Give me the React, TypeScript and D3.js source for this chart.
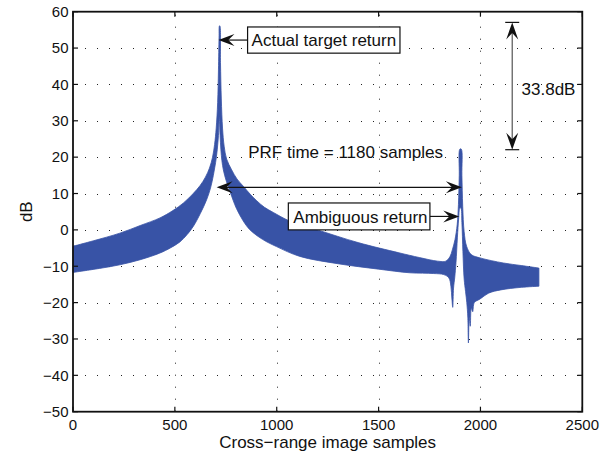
import React from 'react';
import * as d3 from 'd3';

const W = 615;
const H = 458;

const X_TICKS = [0, 500, 1000, 1500, 2000, 2500];
const Y_TICKS = [-50, -40, -30, -20, -10, 0, 10, 20, 30, 40, 50, 60];

// Upper envelope of the cross-range image (sample, dB)
const UPPER_SAMPLES = [0, 100, 230, 330, 427, 490, 542, 590, 624, 650, 670, 685, 695, 703, 710, 714, 717, 719, 721, 724, 728, 734, 742, 754, 779, 805, 836, 870, 902, 940, 983, 1065, 1200, 1400, 1600, 1700, 1790, 1830, 1850, 1862, 1875, 1886, 1892, 1896, 1899, 1906, 1909, 1913, 1920, 1932, 1955, 1998, 2112, 2200, 2287];
const UPPER_DB = [-4.5, -3.0, -0.9, 1.2, 3.3, 5.3, 7.4, 10.0, 12.2, 14.5, 17, 20, 23.5, 28, 35, 44, 53, 56.1, 56.1, 46, 36, 28, 23, 19.5, 16.5, 14.0, 12.0, 9.8, 8.0, 6.2, 4.8, 2.4, 0, -3.5, -6.3, -7.6, -8.6, -8.6, -7.4, -5.5, -2.7, 1.5, 7, 15, 22.2, 22.2, 15, 6.5, -0.5, -4.5, -6.8, -7.7, -9.1, -9.8, -10.5];

// Lower envelope of the cross-range image (sample, dB)
const LOWER_SAMPLES = [0, 130, 230, 330, 425, 480, 525, 560, 591, 625, 656, 675, 689, 700, 708, 714, 718, 722, 726, 731, 738, 752, 771, 787, 803, 835, 869, 930, 999, 1114, 1300, 1500, 1654, 1769, 1820, 1845, 1855, 1860, 1864, 1868, 1874, 1880, 1887, 1893, 1899, 1904, 1909, 1914, 1920, 1927, 1933, 1938, 1941, 1945, 1950, 1955, 1962, 1970, 1998, 2040, 2100, 2200, 2287];
const LOWER_DB = [-11.7, -10.6, -9.6, -8.2, -6.4, -4.9, -3.3, -1.3, 1.0, 4.5, 8.3, 11.5, 15.0, 18.5, 22, 26, 31, 26, 22, 19, 16.5, 13.5, 10.5, 8.0, 5.8, 2.5, 0, -2.6, -4.6, -7.3, -9.3, -10.8, -11.8, -12.0, -12.3, -13.2, -15.5, -19, -21.3, -16, -13, -9, -2, 3, 6, 6, 2, -6, -13.5, -17, -20, -24, -31.1, -24, -26.5, -21.5, -22.5, -20, -19, -17.4, -16.5, -15.8, -15.5];

const X_LABEL = 'Cross\u2212range image samples';
const Y_LABEL = 'dB';
const ACTUAL_LABEL = 'Actual target return';
const AMBIG_LABEL = 'Ambiguous return';
const PRF_LABEL = 'PRF time = 1180 samples';
const DIFF_LABEL = '33.8dB';

const FONT = '"Liberation Sans", Arial, Helvetica, sans-serif';
const BLUE = '#3853a6';

const fmt = (v: number) => (v < 0 ? '\u2212' + Math.abs(v) : String(v));

function arrowHead(tx: number, ty: number, dx: number, dy: number, L = 16, Wd = 6, notch = 0.62) {
  const bx = tx - dx * L;
  const by = ty - dy * L;
  const px = -dy;
  const py = dx;
  const p1 = [bx + px * Wd, by + py * Wd];
  const p2 = [bx - px * Wd, by - py * Wd];
  const n = [tx - dx * L * notch, ty - dy * L * notch];
  return `M${tx},${ty}L${p1[0]},${p1[1]}L${n[0]},${n[1]}L${p2[0]},${p2[1]}Z`;
}

export default function App() {
  const left = 73;
  const right = 582.3;
  const top = 11.7;
  const bottom = 411.7;

  const x = d3.scaleLinear().domain([0, 2500]).range([left, right]);
  const y = d3.scaleLinear().domain([-50, 60]).range([bottom, top]);

  const upper = UPPER_SAMPLES.map((s, i) => [s, UPPER_DB[i]] as [number, number]);
  const lower = LOWER_SAMPLES.map((s, i) => [s, LOWER_DB[i]] as [number, number]);
  const line = d3
    .line<[number, number]>()
    .x((d) => x(d[0]))
    .y((d) => y(d[1]))
    .curve(d3.curveCatmullRom.alpha(0.5));
  const upperPath = line(upper) || '';
  const lowerPath = (line(lower.slice().reverse()) || '').replace(/^M/, 'L');
  const bandPath = upperPath + lowerPath + 'Z';

  const tickLen = 5;

  // annotation anchors (data units)
  const actBox = { s0: 857, s1: 1605, d0: 55.8, d1: 48.6 };
  const actArrow = { sTip: 714, d: 52.2 };
  const ambBox = { s0: 1057, s1: 1752, d0: 7.4, d1: 0 };
  const ambArrow = { sTip: 1896, d: 3.7 };
  const prf = { s0: 705, s1: 1909, d: 11.7, textS: 860, textD: 19.9 };
  const diff = { s: 2156, dTop: 57.06, dBot: 22.05, textS: 2202, textD: 37.2 };

  const actY = y(actArrow.d);
  const ambY = y(ambArrow.d);
  const prfY = y(prf.d);
  const dX = x(diff.s);

  return (
    <svg width={W} height={H} style={{ position: 'absolute', left: 0, top: 0, background: '#fff' }} fontFamily={FONT}>
      <rect x={0} y={0} width={W} height={H} fill="#fff" />
      {/* grid */}
      <g stroke="#222" strokeWidth={1} strokeDasharray="1,11">
        {X_TICKS.filter((t) => t > 0 && t < 2500).map((t) => (
          <line key={'gx' + t} x1={Math.round(x(t)) + 0.5} x2={Math.round(x(t)) + 0.5} y1={bottom} y2={top} />
        ))}
        {Y_TICKS.filter((t) => t > -50 && t < 60).map((t) => (
          <line key={'gy' + t} x1={left} x2={right} y1={Math.round(y(t)) + 0.5} y2={Math.round(y(t)) + 0.5} />
        ))}
      </g>

      {/* signal band */}
      <path d={bandPath} fill={BLUE} stroke={BLUE} strokeWidth={0.8} strokeLinejoin="round" />

      {/* axes box */}
      <rect x={left} y={top} width={right - left} height={bottom - top} fill="none" stroke="#111" strokeWidth={1.8} />
      <g stroke="#111" strokeWidth={1.2}>
        {X_TICKS.map((t) => (
          <g key={'tx' + t}>
            <line x1={x(t)} x2={x(t)} y1={bottom} y2={bottom - tickLen} />
            <line x1={x(t)} x2={x(t)} y1={top} y2={top + tickLen} />
          </g>
        ))}
        {Y_TICKS.map((t) => (
          <g key={'ty' + t}>
            <line x1={left} x2={left + tickLen} y1={y(t)} y2={y(t)} />
            <line x1={right} x2={right - tickLen} y1={y(t)} y2={y(t)} />
          </g>
        ))}
      </g>
      <g fontSize={15} fill="#111">
        {X_TICKS.map((t) => (
          <text key={'lx' + t} x={x(t)} y={430} textAnchor="middle">
            {fmt(t)}
          </text>
        ))}
        {Y_TICKS.map((t) => (
          <text key={'ly' + t} x={68.5} y={y(t) + 5.3} textAnchor="end">
            {fmt(t)}
          </text>
        ))}
      </g>
      <text x={(left + right) / 2} y={448} textAnchor="middle" fontSize={17} fill="#111">
        {X_LABEL}
      </text>
      <text transform={`translate(31.5,${(top + bottom) / 2}) rotate(-90)`} textAnchor="middle" fontSize={17} fill="#111">
        {Y_LABEL}
      </text>

      {/* Actual target return */}
      <line x1={x(actBox.s0)} x2={x(actArrow.sTip) + 8} y1={actY} y2={actY} stroke="#111" strokeWidth={1.2} />
      <path d={arrowHead(x(actArrow.sTip), actY, -1, 0)} fill="#111" />
      <rect x={x(actBox.s0)} y={y(actBox.d0)} width={x(actBox.s1) - x(actBox.s0)} height={y(actBox.d1) - y(actBox.d0)} fill="#fff" stroke="#111" strokeWidth={1.2} />
      <text x={x(actBox.s0) + 4} y={y(actBox.d1) - 6.8} fontSize={17} fill="#111">
        {ACTUAL_LABEL}
      </text>

      {/* PRF */}
      <text x={x(prf.textS)} y={y(prf.textD)} fontSize={17} fill="#111">
        {PRF_LABEL}
      </text>
      <line x1={x(prf.s0) + 8} x2={x(prf.s1) - 8} y1={prfY} y2={prfY} stroke="#111" strokeWidth={1.2} />
      <path d={arrowHead(x(prf.s0), prfY, -1, 0)} fill="#111" />
      <path d={arrowHead(x(prf.s1), prfY, 1, 0)} fill="#111" />

      {/* Ambiguous return */}
      <line x1={x(ambBox.s1)} x2={x(ambArrow.sTip) - 8} y1={ambY} y2={ambY} stroke="#111" strokeWidth={1.2} />
      <path d={arrowHead(x(ambArrow.sTip), ambY, 1, 0)} fill="#111" />
      <rect x={x(ambBox.s0)} y={y(ambBox.d0)} width={x(ambBox.s1) - x(ambBox.s0)} height={y(ambBox.d1) - y(ambBox.d0)} fill="#fff" stroke="#111" strokeWidth={1.2} />
      <text x={x(ambBox.s0) + 5} y={y(ambBox.d1) - 7.3} fontSize={17} fill="#111">
        {AMBIG_LABEL}
      </text>

      {/* 33.8 dB */}
      <line x1={dX} x2={dX} y1={y(diff.dTop) + 8} y2={y(diff.dBot) - 8} stroke="#555" strokeWidth={1.2} />
      <line x1={dX - 7} x2={dX + 7} y1={y(diff.dTop)} y2={y(diff.dTop)} stroke="#111" strokeWidth={1.2} />
      <line x1={dX - 7} x2={dX + 7} y1={y(diff.dBot)} y2={y(diff.dBot)} stroke="#111" strokeWidth={1.2} />
      <path d={arrowHead(dX, y(diff.dTop), 0, -1, 17)} fill="#111" />
      <path d={arrowHead(dX, y(diff.dBot), 0, 1, 17)} fill="#111" />
      <text x={x(diff.textS)} y={y(diff.textD)} fontSize={17} fill="#111">
        {DIFF_LABEL}
      </text>
    </svg>
  );
}
